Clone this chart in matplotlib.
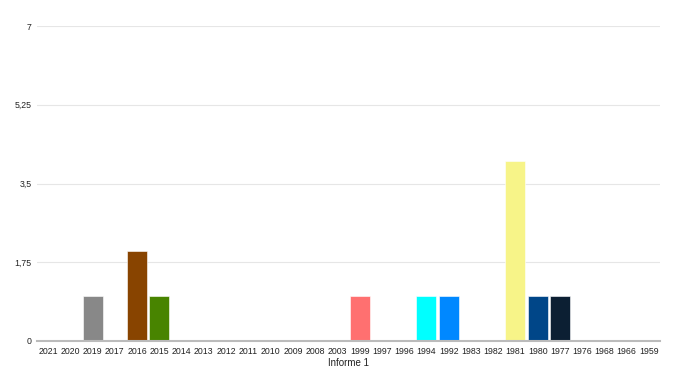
import matplotlib.pyplot as plt
from matplotlib.ticker import FuncFormatter

plt.rcParams['font.family'] = ['Liberation Sans', 'DejaVu Sans']

years = ['2021', '2020', '2019', '2017', '2016', '2015', '2014', '2013', '2012',
         '2011', '2010', '2009', '2008', '2003', '1999', '1997', '1996', '1994',
         '1992', '1983', '1982', '1981', '1980', '1977', '1976', '1968', '1966',
         '1959']
counts = [0, 0, 1, 0, 2, 1, 0, 0, 0, 0, 0, 0, 0, 0, 1, 0, 0, 1, 1, 0, 0, 4, 1, 1,
          0, 0, 0, 0]
bar_colors = {
    '2019': '#888888',
    '2016': '#884400',
    '2015': '#488400',
    '1999': '#ff7070',
    '1994': '#00ffff',
    '1992': '#0088ff',
    '1981': '#f7f488',
    '1980': '#004688',
    '1977': '#0c1f33',
}
y_ticks = [0, 1.75, 3.5, 5.25, 7]

fig = plt.figure(figsize=(6.9, 3.88), dpi=100)
ax = fig.add_axes([37 / 690, 47 / 388, 623 / 690, 315 / 388])

x = range(len(years))
colors = [bar_colors.get(y, '#cccccc') for y in years]
ax.bar(x, counts, width=0.9, color=colors, edgecolor='white', linewidth=0.4, zorder=3)

ax.set_xlim(-0.5, len(years) - 0.5)
ax.set_ylim(0, 7)
ax.set_yticks(y_ticks)
ax.yaxis.set_major_formatter(FuncFormatter(lambda v, p: f'{v:g}'.replace('.', ',')))
ax.set_xticks(list(x))
ax.set_xticklabels(years)
ax.tick_params(axis='both', length=0, labelsize=6.3, colors='#222222')
ax.tick_params(axis='y', pad=4)
ax.tick_params(axis='x', pad=4)
ax.grid(axis='y', color='#e6e6e6', linewidth=0.8, zorder=0)
for side in ['top', 'right', 'left']:
    ax.spines[side].set_visible(False)
ax.spines['bottom'].set_color('#bbbbbb')
ax.spines['bottom'].set_linewidth(1.5)
ax.spines['bottom'].set_zorder(4)
ax.set_xlabel('Informe 1', fontsize=7, color='#222222', labelpad=2)

fig.savefig('out.png', dpi=100)
